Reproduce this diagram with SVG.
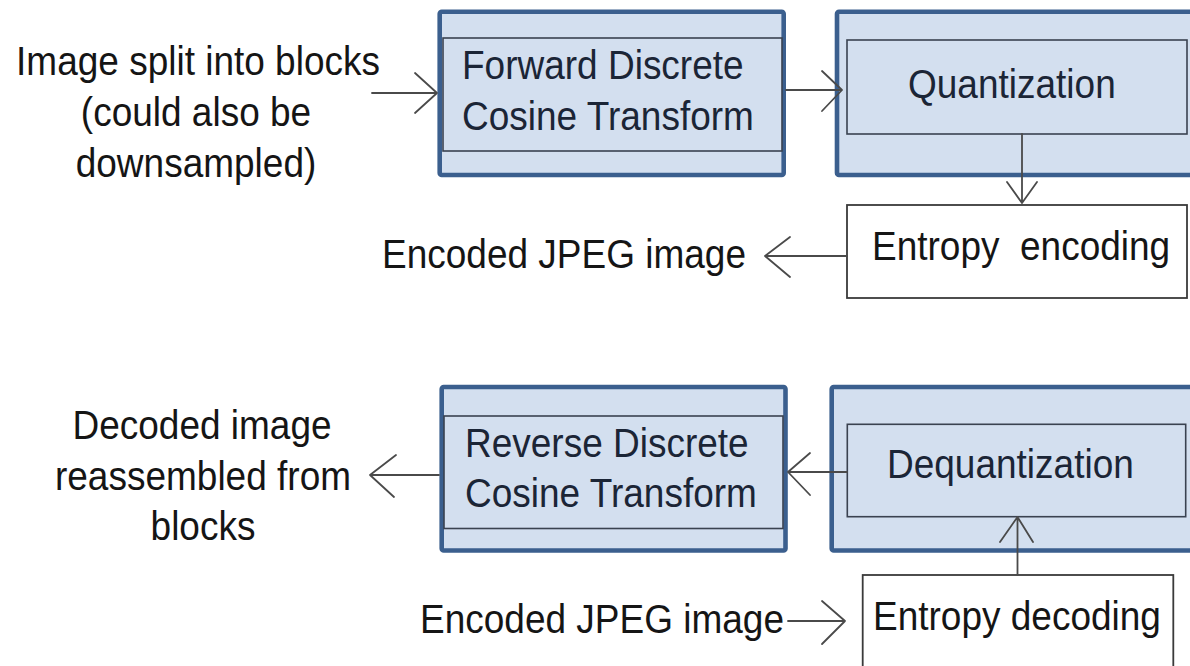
<svg xmlns="http://www.w3.org/2000/svg" width="1190" height="666" viewBox="0 0 1190 666">
<style>
.outer{fill:#d3dfef;stroke:#3b5f8e;stroke-width:4.6}
.inner{fill:#d3dfef;stroke:#3a4250;stroke-width:1.6}
.plain{fill:#ffffff;stroke:#3a3a3a;stroke-width:1.8}
.t{font-family:"Liberation Sans",Arial,sans-serif;font-size:37px;fill:#151515}
.tb{font-family:"Liberation Sans",Arial,sans-serif;font-size:37px;fill:#1b2536}
.c{fill:none;stroke:#4a4a4a;stroke-width:1.8;stroke-linecap:round;stroke-linejoin:round}
</style>
<rect width="1190" height="666" fill="#ffffff"/>
<g id="input-label">
<text class="t" transform="translate(198,75) scale(1,1.08)" text-anchor="middle">Image split into blocks</text>
<text class="t" transform="translate(196,126) scale(1,1.08)" text-anchor="middle">(could also be</text>
<text class="t" transform="translate(196,177) scale(1,1.08)" text-anchor="middle">downsampled)</text>
</g>
<g id="fdct">
<rect class="outer" x="439.7" y="11.7" width="344" height="163.3" rx="2"/>
<rect class="inner" x="443" y="38" width="339" height="113"/>
<text class="tb" transform="translate(462,78.5) scale(1,1.08)">Forward Discrete</text>
<text class="tb" transform="translate(462,130) scale(1,1.08)">Cosine Transform</text>
</g>
<g id="quantization">
<rect class="outer" x="837" y="11.7" width="360" height="163.3" rx="2"/>
<rect class="inner" x="847" y="40" width="340" height="94"/>
<text class="tb" transform="translate(908,98) scale(1,1.08)">Quantization</text>
</g>
<g id="entropy-encoding">
<rect class="plain" x="847" y="205" width="340" height="93"/>
<text class="t" transform="translate(872,260) scale(1,1.08)" style="white-space:pre">Entropy  encoding</text>
</g>
<g id="encoded-out-label">
<text class="t" transform="translate(382,268) scale(1,1.08)">Encoded JPEG image</text>
</g>
<g id="output-label">
<text class="t" transform="translate(202,439) scale(1,1.08)" text-anchor="middle">Decoded image</text>
<text class="t" transform="translate(203,490) scale(1,1.08)" text-anchor="middle">reassembled from</text>
<text class="t" transform="translate(203,540) scale(1,1.08)" text-anchor="middle">blocks</text>
</g>
<g id="rdct">
<rect class="outer" x="441.7" y="387" width="343.8" height="163.5" rx="2"/>
<rect class="inner" x="444" y="416" width="339" height="112.5"/>
<text class="tb" transform="translate(465,457) scale(1,1.08)">Reverse Discrete</text>
<text class="tb" transform="translate(465,507) scale(1,1.08)">Cosine Transform</text>
</g>
<g id="dequantization">
<rect class="outer" x="831.7" y="387" width="365" height="163.5" rx="2"/>
<rect class="inner" x="847.3" y="424.3" width="338.4" height="92.4"/>
<text class="tb" transform="translate(887,478) scale(1,1.08)">Dequantization</text>
</g>
<g id="entropy-decoding">
<rect class="plain" x="862.7" y="575" width="310.6" height="110"/>
<text class="t" transform="translate(873,630) scale(1,1.08)">Entropy decoding</text>
</g>
<g id="encoded-in-label">
<text class="t" transform="translate(420,633) scale(1,1.08)">Encoded JPEG image</text>
</g>
<g id="connectors">
<path class="c" d="M372 93H437M415 73L437 93L415 113"/>
<path class="c" d="M786 90H842M822 71L842 90L822 111"/>
<path class="c" d="M1022 134V203M1007 182L1022 203L1037 182"/>
<path class="c" d="M847 256H765M790 237L765 256L790 277"/>
<path class="c" d="M847 472H788M810 453L788 472L810 495"/>
<path class="c" d="M439 475H370M396 455L370 475L394 497"/>
<path class="c" d="M1017.5 575V517M1000 542L1017.5 517L1033 542"/>
<path class="c" d="M788 621H845M822 601L845 621L822 644"/>
</g>
</svg>
